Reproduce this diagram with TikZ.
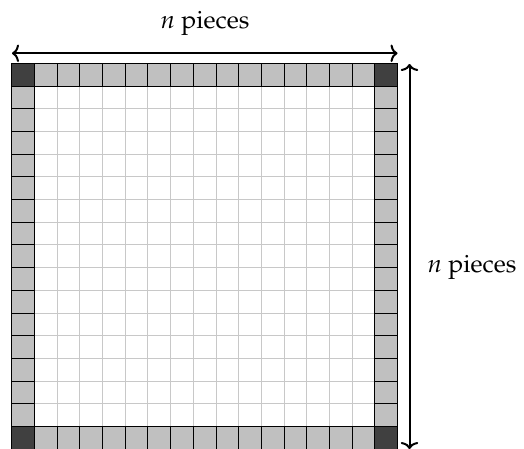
\documentclass[tikz,border=0pt]{standalone}
\usepackage[T1]{fontenc}
\usepackage{mathpazo}
\usetikzlibrary{arrows.meta}
\definecolor{edgegray}{HTML}{C0C0C0}
\definecolor{cornergray}{HTML}{404040}
\definecolor{innergray}{HTML}{C8C8C8}
\tikzset{
  edgecell/.style={draw=black, line width=0.4pt, fill=edgegray},
  cornercell/.style={draw=black, line width=0.4pt, fill=cornergray},
  gridline/.style={innergray, line width=0.4pt},
  dimarrow/.style={{To[length=2.8pt,width=7pt]}-{To[length=2.8pt,width=7pt]}, line width=0.8pt},
  dimlabel/.style={inner sep=0pt, font=\normalsize}
}
\begin{document}
\begin{tikzpicture}[x=0.4pt,y=-0.4pt]
\useasboundingbox (0,0) rectangle (524,448);
\begin{scope}[shift={(11.7,63.3)}, x=9.08pt, y=-9.08pt]
  \foreach \k in {2,...,15} {
    \draw[gridline] (\k,1) -- (\k,16);
    \draw[gridline] (1,\k) -- (16,\k);
  }
  \foreach \i in {1,...,15} {
    \draw[edgecell] (\i,0) rectangle ++(1,1);
    \draw[edgecell] (\i,16) rectangle ++(1,1);
    \draw[edgecell] (0,\i) rectangle ++(1,1);
    \draw[edgecell] (16,\i) rectangle ++(1,1);
  }
  \draw[cornercell] (0,0) rectangle ++(1,1);
  \draw[cornercell] (16,0) rectangle ++(1,1);
  \draw[cornercell] (0,16) rectangle ++(1,1);
  \draw[cornercell] (16,16) rectangle ++(1,1);
\end{scope}
\coordinate (tl) at (12,53.3);
\coordinate (tr) at (397.5,53.3);
\coordinate (rt) at (409.5,64);
\coordinate (rb) at (409.5,449);
\draw[dimarrow] (tl) -- (tr);
\draw[dimarrow] (rt) -- (rb);
\node[dimlabel] (toplabel) at (205,23) {$n$ pieces};
\node[dimlabel] (rightlabel) at (472,267) {$n$ pieces};
\end{tikzpicture}
\end{document}
